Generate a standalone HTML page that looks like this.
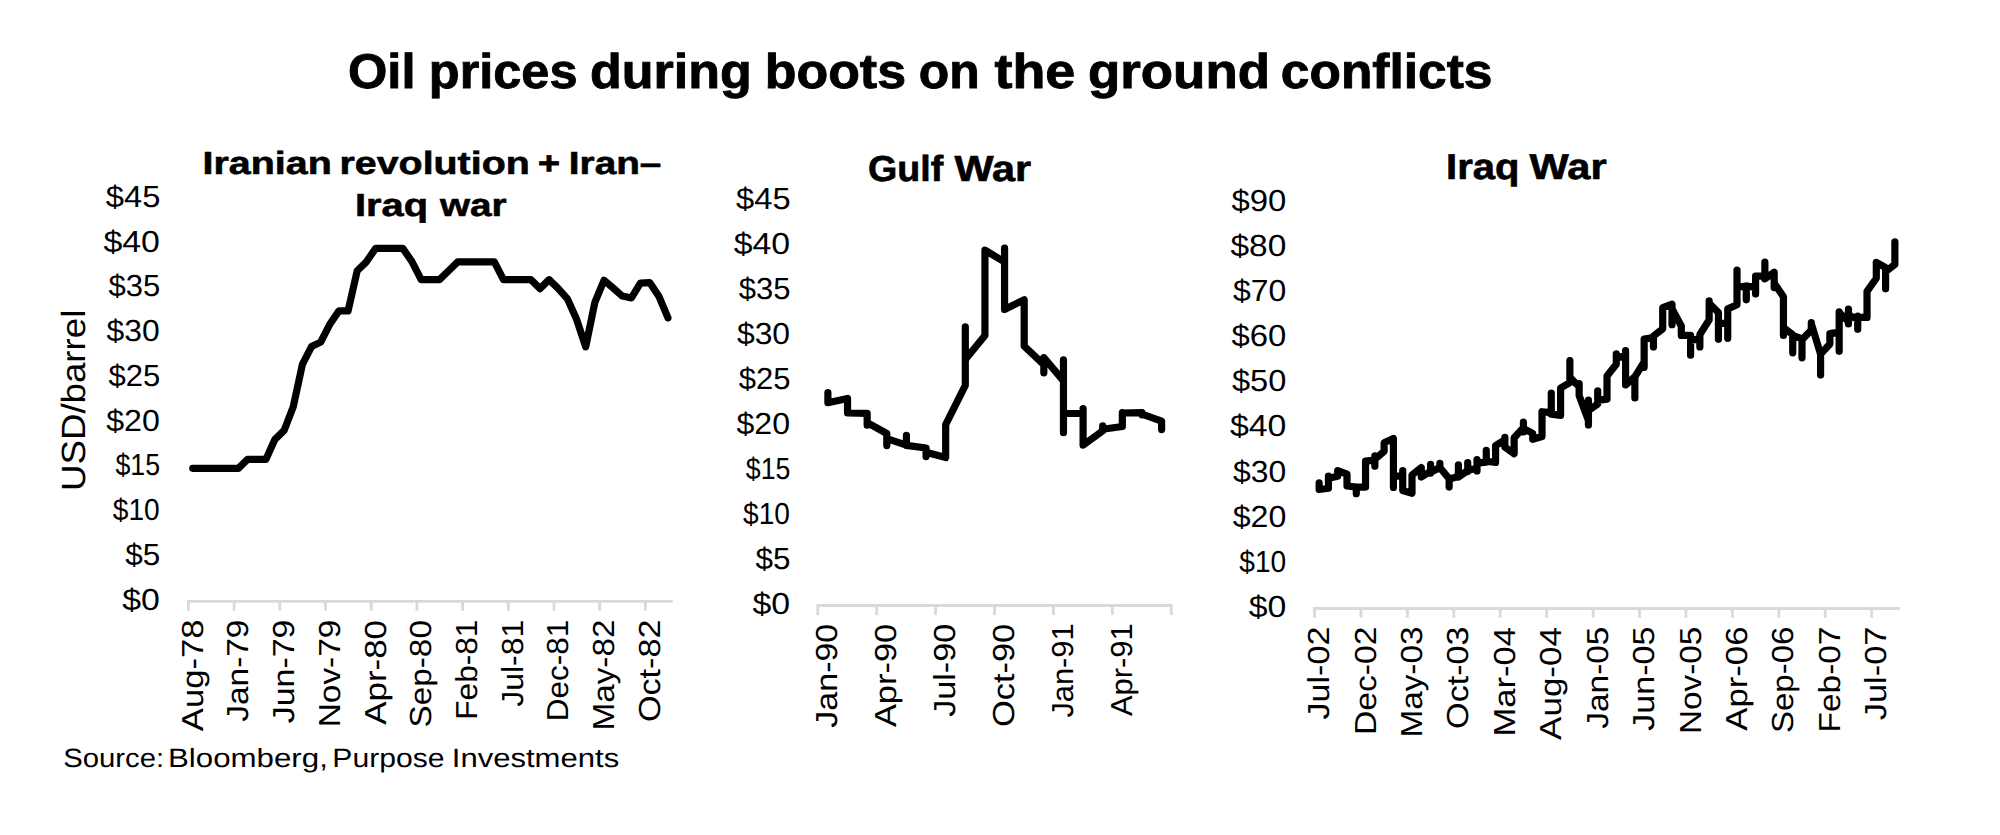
<!DOCTYPE html>
<html lang="en"><head><meta charset="utf-8"><title>Oil prices during boots on the ground conflicts</title>
<style>
html,body{margin:0;padding:0;background:#fff;}
body{width:2000px;height:835px;overflow:hidden;}
svg{display:block;}
text{font-family:"Liberation Sans",Arial,Helvetica,sans-serif;fill:#000;text-rendering:geometricPrecision;}
</style></head><body>
<svg width="2000" height="835" viewBox="0 0 2000 835">
<rect width="2000" height="835" fill="#fff"/>
<g id="axes">
<path d="M187.00,601.40H672.80M188.40,601.40V610.70M234.10,601.40V610.70M279.80,601.40V610.70M325.50,601.40V610.70M371.20,601.40V610.70M416.90,601.40V610.70M462.60,601.40V610.70M508.30,601.40V610.70M554.00,601.40V610.70M599.70,601.40V610.70M645.40,601.40V610.70" stroke="#d9d9d9" stroke-width="2.8" fill="none"/>
<path d="M816.40,605.50H1172.60M817.80,605.50V615.00M876.70,605.50V615.00M935.60,605.50V615.00M994.50,605.50V615.00M1053.40,605.50V615.00M1112.30,605.50V615.00M1171.20,605.50V615.00" stroke="#d9d9d9" stroke-width="2.8" fill="none"/>
<path d="M1313.10,608.50H1900.00M1314.50,608.50V617.80M1360.93,608.50V617.80M1407.36,608.50V617.80M1453.79,608.50V617.80M1500.22,608.50V617.80M1546.65,608.50V617.80M1593.08,608.50V617.80M1639.51,608.50V617.80M1685.94,608.50V617.80M1732.37,608.50V617.80M1778.80,608.50V617.80M1825.23,608.50V617.80M1871.66,608.50V617.80" stroke="#d9d9d9" stroke-width="2.8" fill="none"/>
</g>
<g id="lines">
<path d="M192.70,468.34 L201.84,468.34 L210.98,468.34 L220.12,468.34 L229.26,468.34 L238.40,468.34 L247.54,459.42 L256.68,459.42 L265.82,459.42 L274.96,439.35 L284.10,430.43 L293.24,406.79 L302.38,364.42 L311.52,346.58 L320.66,342.12 L329.80,324.28 L338.94,310.90 L348.08,310.90 L357.22,270.76 L366.36,261.84 L375.50,248.46 L384.64,248.46 L393.78,248.46 L402.92,248.46 L412.06,261.84 L421.20,279.68 L430.34,279.68 L439.48,279.68 L448.62,270.76 L457.76,261.84 L466.90,261.84 L476.04,261.84 L485.18,261.84 L494.32,261.84 L503.46,279.68 L512.60,279.68 L521.74,279.68 L530.88,279.68 L540.02,288.60 L549.16,279.68 L558.30,288.60 L567.44,298.86 L576.58,319.28 L585.72,346.76 L594.86,302.43 L604.00,280.30 L613.14,287.98 L622.28,296.09 L631.42,297.97 L640.56,282.98 L649.70,282.53 L658.84,296.18 L667.98,317.86" stroke="#000" stroke-width="7.2" stroke-linecap="round" stroke-linejoin="round" fill="none"/>
<path d="M827.90,392.70 L827.90,402.70 L847.53,398.50 L847.53,413.00 L867.16,413.40 L867.16,425.20 L867.16,422.60 L886.79,433.50 L886.79,445.60 L886.79,438.70 L906.42,445.20 L906.42,435.40 L906.42,445.40 L926.05,448.00 L926.05,456.60 L926.05,452.20 L945.68,457.50 L945.68,424.60 L965.31,385.40 L965.31,326.90 L965.31,359.50 L984.94,335.50 L984.94,250.20 L1004.57,262.00 L1004.57,248.20 L1004.57,309.40 L1024.20,299.80 L1024.20,346.20 L1043.83,364.70 L1043.83,372.80 L1043.83,357.60 L1063.46,380.90 L1063.46,359.80 L1063.46,432.70 L1063.46,413.50 L1083.09,413.50 L1083.09,408.70 L1083.09,445.20 L1102.72,430.90 L1102.72,425.90 L1102.72,429.30 L1122.35,426.50 L1122.35,412.70 L1122.35,413.00 L1141.98,412.70 L1141.98,414.80 L1141.98,414.10 L1161.61,421.10 L1161.61,429.60" stroke="#000" stroke-width="7.2" stroke-linecap="round" stroke-linejoin="round" fill="none"/>
<path d="M1319.14,482.96 L1319.14,489.54 L1328.43,488.25 L1328.43,476.06 L1328.43,478.22 L1337.71,476.28 L1337.71,470.57 L1347.00,474.12 L1347.00,485.98 L1356.29,487.06 L1356.29,493.64 L1356.29,487.06 L1365.57,487.06 L1365.57,461.19 L1374.86,460.11 L1374.86,455.80 L1374.86,466.36 L1374.86,459.35 L1384.14,451.27 L1384.14,442.86 L1393.43,438.54 L1393.43,487.39 L1393.43,476.06 L1402.72,476.06 L1402.72,470.57 L1402.72,490.62 L1412.00,493.32 L1412.00,474.99 L1421.29,467.44 L1421.29,477.04 L1430.58,471.32 L1430.58,464.42 L1430.58,473.05 L1430.58,472.29 L1439.86,467.44 L1439.86,463.23 L1439.86,468.95 L1439.86,467.44 L1449.15,478.76 L1449.15,477.79 L1449.15,487.06 L1449.15,479.30 L1458.43,476.06 L1458.43,464.85 L1458.43,477.14 L1467.72,470.46 L1467.72,462.48 L1467.72,471.54 L1467.72,470.13 L1477.01,468.52 L1477.01,470.89 L1477.01,459.68 L1477.01,463.13 L1486.29,462.05 L1486.29,450.40 L1486.29,461.51 L1495.58,462.05 L1495.58,462.48 L1495.58,445.55 L1504.86,439.95 L1504.86,437.25 L1504.86,447.17 L1514.15,453.68 L1514.15,437.73 L1523.43,427.67 L1523.43,422.21 L1523.43,431.98 L1523.43,428.39 L1532.72,433.42 L1532.72,439.31 L1542.01,436.44 L1542.01,411.72 L1551.29,412.58 L1551.29,393.03 L1551.29,414.16 L1560.58,415.31 L1560.58,388.00 L1569.87,382.54 L1569.87,360.70 L1569.87,377.37 L1579.15,386.71 L1579.15,383.69 L1579.15,395.48 L1588.44,420.48 L1588.44,424.94 L1588.44,400.22 L1588.44,410.42 L1597.72,404.10 L1597.72,390.88 L1597.72,400.36 L1607.01,399.07 L1607.01,376.00 L1616.30,364.16 L1616.30,353.81 L1616.30,357.55 L1625.58,356.11 L1625.58,350.65 L1625.58,385.00 L1634.87,376.81 L1634.87,397.93 L1634.87,376.81 L1644.15,361.86 L1644.15,367.32 L1644.15,339.15 L1653.44,337.43 L1653.44,346.91 L1653.44,335.99 L1662.72,328.80 L1662.72,307.53 L1672.01,304.23 L1672.01,324.64 L1672.01,308.68 L1681.30,325.93 L1681.30,335.42 L1690.58,335.27 L1690.58,355.25 L1690.58,340.30 L1699.87,338.86 L1699.87,346.91 L1699.87,334.55 L1709.15,319.91 L1709.15,300.94 L1709.15,303.24 L1718.44,312.58 L1718.44,339.31 L1718.44,323.36 L1727.73,323.36 L1727.73,338.30 L1727.73,308.84 L1737.01,304.82 L1737.01,270.04 L1737.01,287.43 L1746.30,285.99 L1746.30,299.79 L1746.30,285.99 L1755.59,287.43 L1755.59,294.04 L1755.59,276.22 L1764.87,275.93 L1764.87,262.13 L1764.87,278.95 L1774.16,272.19 L1774.16,287.57 L1774.16,283.12 L1783.44,296.77 L1783.44,335.43 L1783.44,327.67 L1792.73,334.54 L1792.73,352.87 L1792.73,335.40 L1802.01,338.85 L1802.01,357.83 L1802.01,339.72 L1811.30,330.01 L1811.30,322.67 L1811.30,323.54 L1820.59,354.17 L1820.59,375.09 L1820.59,354.17 L1829.87,344.03 L1829.87,333.46 L1839.16,332.17 L1839.16,351.36 L1839.16,311.89 L1839.16,312.75 L1848.44,321.38 L1848.44,323.97 L1848.44,309.09 L1848.44,314.91 L1857.73,319.22 L1857.73,316.20 L1857.73,329.36 L1857.73,317.07 L1867.02,317.50 L1867.02,291.40 L1876.30,278.24 L1876.30,262.28 L1885.59,267.67 L1885.59,288.81 L1885.59,271.77 L1894.88,264.43 L1894.88,241.79" stroke="#000" stroke-width="7.2" stroke-linecap="round" stroke-linejoin="round" fill="none"/>
</g>
<g id="labels">
<text y="87.60" font-size="48.8" font-weight="bold" stroke="#000" stroke-width="0.88" ><tspan x="347.92" textLength="67.58" lengthAdjust="spacingAndGlyphs">Oil</tspan> <tspan x="428.85" textLength="148.60" lengthAdjust="spacingAndGlyphs">prices</tspan> <tspan x="589.97" textLength="161.85" lengthAdjust="spacingAndGlyphs">during</tspan> <tspan x="764.76" textLength="141.25" lengthAdjust="spacingAndGlyphs">boots</tspan> <tspan x="918.84" textLength="60.97" lengthAdjust="spacingAndGlyphs">on</tspan> <tspan x="994.50" textLength="80.84" lengthAdjust="spacingAndGlyphs">the</tspan> <tspan x="1087.95" textLength="182.03" lengthAdjust="spacingAndGlyphs">ground</tspan> <tspan x="1280.89" textLength="211.59" lengthAdjust="spacingAndGlyphs">conflicts</tspan></text>
<text y="173.60" font-size="32.0" font-weight="bold" stroke="#000" stroke-width="0.58" ><tspan x="202.54" textLength="129.17" lengthAdjust="spacingAndGlyphs">Iranian</tspan> <tspan x="339.54" textLength="190.16" lengthAdjust="spacingAndGlyphs">revolution</tspan> <tspan x="537.80" textLength="22.42" lengthAdjust="spacingAndGlyphs">+</tspan> <tspan x="568.88" textLength="92.48" lengthAdjust="spacingAndGlyphs">Iran–</tspan></text>
<text y="215.80" font-size="32.0" font-weight="bold" stroke="#000" stroke-width="0.58" ><tspan x="355.01" textLength="73.04" lengthAdjust="spacingAndGlyphs">Iraq</tspan> <tspan x="439.90" textLength="66.64" lengthAdjust="spacingAndGlyphs">war</tspan></text>
<text y="180.90" font-size="36.2" font-weight="bold" stroke="#000" stroke-width="0.65" ><tspan x="868.03" textLength="75.17" lengthAdjust="spacingAndGlyphs">Gulf</tspan> <tspan x="954.60" textLength="76.59" lengthAdjust="spacingAndGlyphs">War</tspan></text>
<text y="179.00" font-size="36.0" font-weight="bold" stroke="#000" stroke-width="0.65" ><tspan x="1446.10" textLength="73.36" lengthAdjust="spacingAndGlyphs">Iraq</tspan> <tspan x="1529.60" textLength="76.99" lengthAdjust="spacingAndGlyphs">War</tspan></text>
<text y="766.70" font-size="26.4" ><tspan x="63.18" textLength="100.96" lengthAdjust="spacingAndGlyphs">Source:</tspan> <tspan x="167.96" textLength="159.88" lengthAdjust="spacingAndGlyphs">Bloomberg,</tspan> <tspan x="332.35" textLength="112.17" lengthAdjust="spacingAndGlyphs">Purpose</tspan> <tspan x="451.77" textLength="167.40" lengthAdjust="spacingAndGlyphs">Investments</tspan></text>
<text transform="translate(84.80,490.99) rotate(-90) scale(1.0917,1)" font-size="33.6" >USD/barrel</text>
<text transform="translate(105.80,206.80) scale(1.0750,1)" font-size="30.4" >$45</text>
<text transform="translate(103.40,251.55) scale(1.1128,1)" font-size="30.4" >$40</text>
<text transform="translate(108.50,296.30) scale(1.0204,1)" font-size="30.4" >$35</text>
<text transform="translate(106.60,341.05) scale(1.0488,1)" font-size="30.4" >$30</text>
<text transform="translate(108.50,385.80) scale(1.0204,1)" font-size="30.4" >$25</text>
<text transform="translate(106.20,430.55) scale(1.0568,1)" font-size="30.4" >$20</text>
<text transform="translate(115.50,475.30) scale(0.8790,1)" font-size="30.4" >$15</text>
<text transform="translate(112.80,520.05) scale(0.9247,1)" font-size="30.4" >$10</text>
<text transform="translate(125.30,564.80) scale(1.0343,1)" font-size="30.4" >$5</text>
<text transform="translate(122.20,609.55) scale(1.1132,1)" font-size="30.4" >$0</text>
<text transform="translate(736.10,208.90) scale(1.0750,1)" font-size="30.4" >$45</text>
<text transform="translate(733.70,253.90) scale(1.1128,1)" font-size="30.4" >$40</text>
<text transform="translate(738.80,298.90) scale(1.0204,1)" font-size="30.4" >$35</text>
<text transform="translate(736.90,343.90) scale(1.0488,1)" font-size="30.4" >$30</text>
<text transform="translate(738.80,388.90) scale(1.0204,1)" font-size="30.4" >$25</text>
<text transform="translate(736.50,433.90) scale(1.0568,1)" font-size="30.4" >$20</text>
<text transform="translate(745.80,478.90) scale(0.8790,1)" font-size="30.4" >$15</text>
<text transform="translate(743.10,523.90) scale(0.9247,1)" font-size="30.4" >$10</text>
<text transform="translate(755.60,568.90) scale(1.0343,1)" font-size="30.4" >$5</text>
<text transform="translate(752.50,613.90) scale(1.1132,1)" font-size="30.4" >$0</text>
<text transform="translate(1231.50,210.90) scale(1.0808,1)" font-size="30.4" >$90</text>
<text transform="translate(1230.50,256.00) scale(1.1008,1)" font-size="30.4" >$80</text>
<text transform="translate(1233.00,301.10) scale(1.0508,1)" font-size="30.4" >$70</text>
<text transform="translate(1231.50,346.20) scale(1.0808,1)" font-size="30.4" >$60</text>
<text transform="translate(1232.00,391.30) scale(1.0708,1)" font-size="30.4" >$50</text>
<text transform="translate(1229.90,436.40) scale(1.1128,1)" font-size="30.4" >$40</text>
<text transform="translate(1233.10,481.50) scale(1.0488,1)" font-size="30.4" >$30</text>
<text transform="translate(1232.70,526.60) scale(1.0568,1)" font-size="30.4" >$20</text>
<text transform="translate(1239.30,571.70) scale(0.9247,1)" font-size="30.4" >$10</text>
<text transform="translate(1248.70,616.80) scale(1.1132,1)" font-size="30.4" >$0</text>
<text transform="translate(202.70,731.20) rotate(-90) scale(1.1395,1)" font-size="30.4" >Aug-78</text>
<text transform="translate(248.40,721.72) rotate(-90) scale(1.0992,1)" font-size="30.4" >Jan-79</text>
<text transform="translate(294.10,723.33) rotate(-90) scale(1.1168,1)" font-size="30.4" >Jun-79</text>
<text transform="translate(339.80,727.31) rotate(-90) scale(1.0997,1)" font-size="30.4" >Nov-79</text>
<text transform="translate(385.50,724.70) rotate(-90) scale(1.1471,1)" font-size="30.4" >Apr-80</text>
<text transform="translate(431.20,727.44) rotate(-90) scale(1.0953,1)" font-size="30.4" >Sep-80</text>
<text transform="translate(476.90,719.67) rotate(-90) scale(1.0387,1)" font-size="30.4" >Feb-81</text>
<text transform="translate(522.60,706.80) rotate(-90) scale(1.0531,1)" font-size="30.4" >Jul-81</text>
<text transform="translate(568.30,721.26) rotate(-90) scale(1.0372,1)" font-size="30.4" >Dec-81</text>
<text transform="translate(614.00,730.60) rotate(-90) scale(1.0955,1)" font-size="30.4" >May-82</text>
<text transform="translate(659.70,722.10) rotate(-90) scale(1.1245,1)" font-size="30.4" >Oct-82</text>
<text transform="translate(837.40,727.63) rotate(-90) scale(1.1175,1)" font-size="30.4" >Jan-90</text>
<text transform="translate(896.30,727.10) rotate(-90) scale(1.1328,1)" font-size="30.4" >Apr-90</text>
<text transform="translate(955.20,716.83) rotate(-90) scale(1.1242,1)" font-size="30.4" >Jul-90</text>
<text transform="translate(1014.10,727.11) rotate(-90) scale(1.1331,1)" font-size="30.4" >Oct-90</text>
<text transform="translate(1073.00,717.58) rotate(-90) scale(1.0138,1)" font-size="30.4" >Jan-91</text>
<text transform="translate(1131.90,716.10) rotate(-90) scale(1.0165,1)" font-size="30.4" >Apr-91</text>
<text transform="translate(1329.10,719.53) rotate(-90) scale(1.1234,1)" font-size="30.4" >Jul-02</text>
<text transform="translate(1375.53,735.03) rotate(-90) scale(1.1071,1)" font-size="30.4" >Dec-02</text>
<text transform="translate(1421.96,737.50) rotate(-90) scale(1.0945,1)" font-size="30.4" >May-03</text>
<text transform="translate(1468.39,728.90) rotate(-90) scale(1.1222,1)" font-size="30.4" >Oct-03</text>
<text transform="translate(1514.82,736.40) rotate(-90) scale(1.1357,1)" font-size="30.4" >Mar-04</text>
<text transform="translate(1561.25,739.90) rotate(-90) scale(1.1514,1)" font-size="30.4" >Aug-04</text>
<text transform="translate(1607.68,728.72) rotate(-90) scale(1.0992,1)" font-size="30.4" >Jan-05</text>
<text transform="translate(1654.11,730.83) rotate(-90) scale(1.1223,1)" font-size="30.4" >Jun-05</text>
<text transform="translate(1700.54,734.11) rotate(-90) scale(1.0976,1)" font-size="30.4" >Nov-05</text>
<text transform="translate(1746.97,730.70) rotate(-90) scale(1.1421,1)" font-size="30.4" >Apr-06</text>
<text transform="translate(1793.40,733.03) rotate(-90) scale(1.0861,1)" font-size="30.4" >Sep-06</text>
<text transform="translate(1839.83,732.41) rotate(-90) scale(1.0991,1)" font-size="30.4" >Feb-07</text>
<text transform="translate(1886.26,720.34) rotate(-90) scale(1.1333,1)" font-size="30.4" >Jul-07</text>
</g>
</svg>
</body></html>
